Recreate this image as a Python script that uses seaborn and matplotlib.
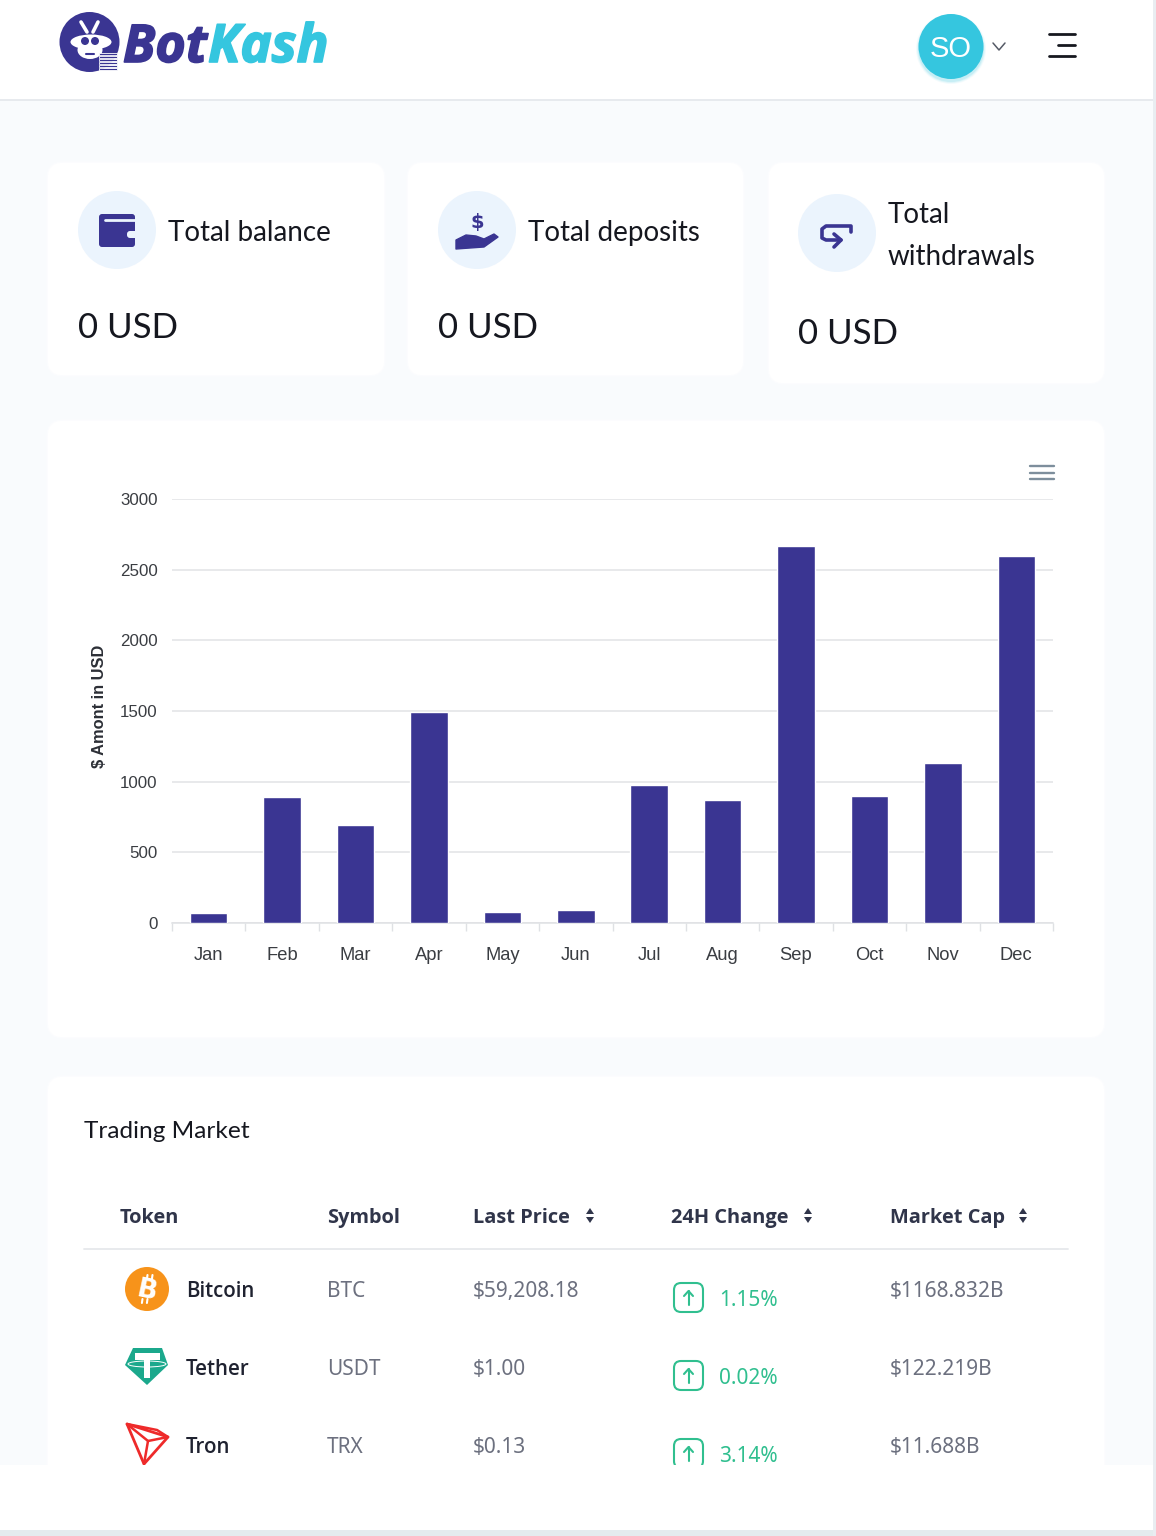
import matplotlib
matplotlib.use("Agg")
import matplotlib.pyplot as plt
import matplotlib.patheffects as pe
from matplotlib.patches import Circle, FancyBboxPatch, Polygon, Rectangle, Ellipse
from matplotlib.ticker import FixedLocator
import seaborn as sns

# Chart data
months = ["Jan", "Feb", "Mar", "Apr", "May", "Jun", "Jul", "Aug", "Sep", "Oct", "Nov", "Dec"]
amounts = [68, 893, 694, 1495, 76, 90, 978, 870, 2668, 898, 1133, 2595]
y_ticks = [0, 500, 1000, 1500, 2000, 2500, 3000]

# Summary cards
card_titles = ["Total balance", "Total deposits", "Total\nwithdrawals"]
card_values = ["0 USD", "0 USD", "0 USD"]

# Market table
table_headers = ["Token", "Symbol", "Last Price", "24H Change", "Market Cap"]
tokens = ["Bitcoin", "Tether", "Tron"]
symbols = ["BTC", "USDT", "TRX"]
prices = ["$59,208.18", "$1.00", "$0.13"]
changes = ["1.15%", "0.02%", "3.14%"]
caps = ["$1168.832B", "$122.219B", "$11.688B"]

INDIGO = "#3a3592"
CYAN = "#35c6df"
PALE = "#ebf4fd"
BG = "#f9fbfd"
GREEN = "#30bf8f"
GRAY = "#6c707f"
DARK = "#30354a"
UI = "Noto Sans"
HEAD = "Open Sans"
TITLE = "Lato"

sns.set_theme(style="white")
plt.rcParams["font.family"] = ["Noto Sans", "DejaVu Sans"]

fig = plt.figure(figsize=(11.56, 15.36), dpi=100, facecolor="white")

# overlay in pixel coords for the dashboard chrome
page = fig.add_axes([0, 0, 1, 1], zorder=0)
page.set_xlim(0, 1156)
page.set_ylim(1536, 0)
page.axis("off")


def txt(x, y, s, size, color="#15171f", weight="normal", ha="left", family=UI, **kw):
    return page.text(x, y, s, fontsize=size, color=color, fontweight=weight, ha=ha,
                     va="baseline", family=family, zorder=6, **kw)


def card(x0, y0, x1, y1):
    page.add_patch(FancyBboxPatch((x0 + 14, y0 + 14), x1 - x0 - 28, y1 - y0 - 28,
                                  boxstyle="round,pad=14,rounding_size=16",
                                  fc="white", ec="#fbfcfe", lw=1, zorder=2))


page.add_patch(Rectangle((0, 0), 1156, 1536, fc=BG, ec="none", zorder=0))
page.add_patch(Rectangle((0, 0), 1153, 99, fc="white", ec="none", zorder=1))
page.plot([0, 1153], [99.5, 99.5], color="#e4e7ec", lw=1.2, zorder=2)

card(47, 162, 385, 376)
card(407, 162, 744, 376)
card(768, 162, 1105, 384)
card(47, 420, 1105, 1038)
card(47, 1076, 1105, 1520)

# Logo
page.add_patch(Circle((89.5, 42), 30, fc=INDIGO, ec="none", zorder=3))
page.plot([87, 81], [32, 22], color="white", lw=2.6, solid_capstyle="round", zorder=4)
page.plot([93, 98], [32, 22], color="white", lw=2.6, solid_capstyle="round", zorder=4)
page.add_patch(Ellipse((91, 42), 41, 15, fc="white", ec="none", zorder=4))
page.add_patch(Ellipse((90, 50), 25, 18, fc="white", ec="none", zorder=4))
page.add_patch(Circle((85, 41), 4, fc=INDIGO, ec="none", zorder=5))
page.add_patch(Circle((95, 41), 4, fc=INDIGO, ec="none", zorder=5))
page.plot([86, 94], [54, 54], color=INDIGO, lw=1.5, zorder=5)
for yy in range(53, 69, 3):
    page.add_patch(Rectangle((99, yy), 18, 2, fc=INDIGO, ec="white", lw=0.6, zorder=5))
heavy_i = [pe.withStroke(linewidth=1.2, foreground=INDIGO)]
heavy_c = [pe.withStroke(linewidth=1.2, foreground=CYAN)]
txt(123, 62, "Bot", 37.5, INDIGO, "bold", style="italic", family="Open Sans", path_effects=heavy_i)
txt(208, 62, "Kash", 38, CYAN, "bold", style="italic", family="Open Sans", path_effects=heavy_c)

# Avatar, chevron and menu
for r, a in [(35, 0.06), (34, 0.1), (33, 0.14)]:
    page.add_patch(Circle((951, 49), r, fc=CYAN, ec="none", alpha=a, zorder=2))
page.add_patch(Circle((951, 46.5), 32.5, fc=CYAN, ec="none", zorder=3))
txt(951, 57, "SO", 21, "white", ha="center", family="Liberation Sans")
page.plot([993, 999, 1005], [43, 50, 43], color="#555a66", lw=1.1, zorder=3)
page.plot([1049, 1075], [33.5, 33.5], color="#16181f", lw=2, zorder=3)
page.plot([1058, 1075], [44.5, 44.5], color="#16181f", lw=2, zorder=3)
page.plot([1049, 1075], [55.5, 55.5], color="#16181f", lw=2, zorder=3)

# Summary card text
card_x = [78, 438, 798]
title_x = [168, 528, 888]
for i in range(3):
    lines = card_titles[i].split("\n")
    if len(lines) == 1:
        txt(title_x[i], 241, lines[0], 20, family=TITLE)
    else:
        txt(title_x[i], 223, lines[0], 20, family=TITLE)
        txt(title_x[i], 265, lines[1], 20, family=TITLE)
    txt(card_x[i], 338 if i < 2 else 344, card_values[i], 25, family=TITLE)
    page.add_patch(Circle((card_x[i] + 39, 230 if i < 2 else 233), 39, fc=PALE, ec="none", zorder=3))

# wallet icon
page.add_patch(FancyBboxPatch((100, 215), 34, 31, boxstyle="round,pad=1,rounding_size=3",
                              fc=INDIGO, ec="none", zorder=4))
page.plot([105, 137], [219.5, 219.5], color=PALE, lw=2, zorder=5)
page.add_patch(FancyBboxPatch((127, 231), 11, 7, boxstyle="round,pad=0,rounding_size=3",
                              fc=PALE, ec="none", zorder=5))

# hand icon
txt(477, 228, "$", 14, INDIGO, "bold", ha="center", family="DejaVu Sans")
page.add_patch(Polygon([(456, 240), (466, 235), (476, 236), (484, 239), (494, 234), (498, 237),
                        (484, 247), (456, 249)], closed=True, fc=INDIGO, ec=INDIGO, lw=1,
                       joinstyle="round", zorder=4))

# withdrawal icon
page.plot([851, 851, 826, 822, 822, 826, 841], [232, 226, 226, 229, 238, 240, 240],
          color=INDIGO, lw=2.6, solid_capstyle="round", zorder=4)
page.plot([834, 841, 834], [234, 240, 247], color=INDIGO, lw=2.6, solid_capstyle="round", zorder=4)

# chart menu icon
for yy in [466, 472.5, 479]:
    page.plot([1030, 1054], [yy, yy], color="#7d8e9c", lw=1.7, zorder=3)

# Table
txt(84, 1138, "Trading Market", 17.6, family=TITLE)
header_x = [120, 327, 473, 671, 890]
sort_x = [None, None, 590, 808, 1023]
for hx, sx, head in zip(header_x, sort_x, table_headers):
    txt(hx, 1223, head, 14.4, DARK, "bold", family=HEAD)
    if sx is not None:
        page.add_patch(Polygon([(sx - 4, 1214), (sx + 4, 1214), (sx, 1208)], fc=DARK, ec="none", zorder=4))
        page.add_patch(Polygon([(sx - 4, 1217), (sx + 4, 1217), (sx, 1223)], fc=DARK, ec="none", zorder=4))
page.plot([84, 1068], [1249, 1249], color="#e6e8ec", lw=1.3, zorder=3)

row_base = [1297, 1375, 1453]
for i, base in enumerate(row_base):
    txt(186, base, tokens[i], 14.8, "#1f2230", "semibold", family=HEAD)
    txt(327, base, symbols[i], 15, GRAY)
    txt(473, base, prices[i], 15, GRAY)
    txt(890, base, caps[i], 15, GRAY)
    txt(719, base + 9, changes[i], 15, GREEN)
    page.add_patch(FancyBboxPatch((677, base - 11), 23, 23, boxstyle="round,pad=3,rounding_size=7",
                                  fc="white", ec=GREEN, lw=1.5, zorder=4))
    page.plot([688.5, 688.5], [base - 6, base + 8], color=GREEN, lw=1.5, zorder=5)
    page.plot([684, 688.5, 693], [base - 1, base - 6, base - 1], color=GREEN, lw=1.5, zorder=5)

# Bitcoin icon
page.add_patch(Circle((147, 1289), 22, fc="#f7931a", ec="none", zorder=4))
txt(145.5, 1298.5, "B", 19, "white", "bold", ha="center", rotation=-12, rotation_mode="anchor",
    family="DejaVu Sans")
for tx in [147.5, 152.5]:
    page.plot([tx, tx - 0.6], [1275, 1279], color="white", lw=1.5, zorder=7)
    page.plot([tx - 5, tx - 5.6], [1299, 1303], color="white", lw=1.5, zorder=7)

# Tether icon
page.add_patch(Polygon([(133, 1348), (162, 1348), (168, 1365), (147, 1385), (125, 1365)],
                       fc="#1ba88c", ec="none", zorder=4))
page.add_patch(Rectangle((135, 1353), 25, 7, fc="white", ec="none", zorder=5))
page.add_patch(Rectangle((144, 1353), 6, 25, fc="white", ec="none", zorder=5))
page.add_patch(Ellipse((147, 1364), 38, 6, fc="none", ec="white", lw=0.7, zorder=5))

# Tron icon
tron = "#ee2a2a"
page.add_patch(Polygon([(127, 1424), (168, 1437), (144, 1464)], fc="none", ec=tron, lw=2,
                       joinstyle="round", zorder=4))
page.plot([127, 148, 144], [1424, 1441, 1464], color=tron, lw=1.8, zorder=4)
page.plot([148, 168, 157, 127], [1441, 1437, 1430, 1424], color=tron, lw=1.8, zorder=4)

# page bottom hides the rest of the table
page.add_patch(Rectangle((0, 1465), 1153, 65, fc="white", ec="none", zorder=8))
page.add_patch(Rectangle((0, 1530), 1156, 6, fc="#e4ecee", ec="none", zorder=8))
page.add_patch(Rectangle((1153, 0), 3, 1536, fc="#e9edf1", ec="none", zorder=8))

# Bar chart
ax = fig.add_axes([172 / 1156, 1 - 923 / 1536, (1053 - 172) / 1156, (923 - 499) / 1536], zorder=2)
ax.patch.set_alpha(0)
sns.barplot(x=months, y=amounts, color=INDIGO, saturation=1, width=0.51, ax=ax, zorder=3)
ax.set_xlim(-0.5, 11.5)
ax.set_ylim(0, 3000)
ax.set_yticks(y_ticks)
ax.yaxis.grid(True, color="#e1e3e6", lw=1.1)
ax.set_axisbelow(True)
sns.despine(ax=ax, left=True, top=True, right=True)
ax.spines["bottom"].set_color("#dfe1e4")
ax.spines["bottom"].set_linewidth(1.1)
ax.xaxis.set_minor_locator(FixedLocator([i - 0.5 for i in range(13)]))
ax.tick_params(axis="x", which="minor", bottom=True, length=6, width=1, color="#dfe1e4")
ax.tick_params(axis="x", which="major", bottom=False, length=0, pad=17.5, labelsize=13.2, labelcolor="#3a3d42")
ax.tick_params(axis="y", left=False, length=0, pad=10.5, labelsize=12.2, labelcolor="#3a3d42")
for lab in ax.get_xticklabels() + ax.get_yticklabels():
    lab.set_family("Liberation Sans")
ax.set_xlabel("")
ax.set_ylabel("")
page.text(100, 706, "$ Amont in USD", rotation=90, ha="center", va="center", fontsize=11.8,
          fontweight="bold", color="#2c2f36", family="Liberation Sans", zorder=6)

fig.savefig("out.png", dpi=100, facecolor="white")
